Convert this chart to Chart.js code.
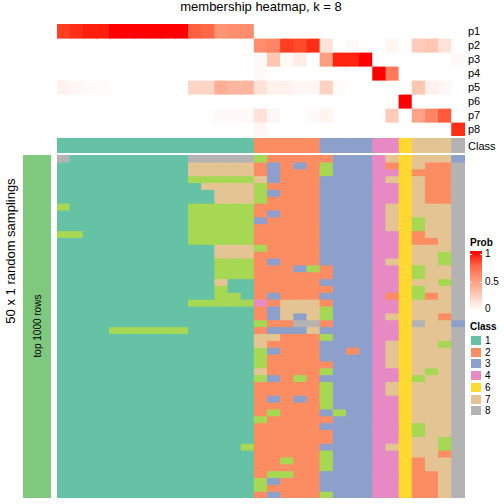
<!DOCTYPE html>
<html>
<head>
<meta charset="utf-8">
<script src="https://cdn.jsdelivr.net/npm/chart.js@4.4.1/dist/chart.umd.min.js"></script>
<style>
  body { margin: 0; width: 504px; height: 504px; position: relative; overflow: hidden; background: #fff;
         font-family: "Liberation Sans", Arial, Helvetica, sans-serif; color: #000; }
  canvas { position: absolute; }
  .txt { position: absolute; white-space: nowrap; }
  .rowlab { position: absolute; left: 468px; height: 14px; line-height: 14px; font-size: 11px; }
  .legtitle { position: absolute; left: 470px; font-size: 10px; font-weight: bold; }
  .leglab { position: absolute; left: 485px; font-size: 10px; line-height: 10px; }
</style>
</head>
<body>

<div class="txt" style="left:0;width:522px;top:0;text-align:center;font-size:13px;line-height:13px">membership heatmap, k = 8</div>

<canvas id="probChart" width="408" height="112" style="left:57px;top:24px"></canvas>
<canvas id="classChart" width="408" height="15" style="left:57px;top:138px"></canvas>
<canvas id="sampleChart" width="408" height="343" style="left:57px;top:155px"></canvas>

<div id="rowLabels"></div>

<!-- left annotation -->
<div style="position:absolute;left:23px;top:155px;width:28px;height:343px;background:#7fc97f"></div>
<div class="txt" style="left:38px;top:326px;font-size:10px;line-height:10px;transform:translate(-50%,-50%) rotate(-90deg)">top 1000 rows</div>
<div class="txt" style="left:10px;top:251px;font-size:13px;line-height:13px;transform:translate(-50%,-50%) rotate(-90deg)">50 x 1 random samplings</div>

<!-- legends -->
<div class="legtitle" style="top:237px">Prob</div>
<div id="probBar" style="position:absolute;left:470px;top:251px;width:12px;height:60px"></div>
<div id="probTicks"></div>
<div class="legtitle" style="top:321px">Class</div>
<div id="classLegend"></div>

<script>
/* ── Data ── */
const columnIds = Array.from({ length: 31 }, (_, i) => 'S' + (i + 1));

const probRowNames = ['p1', 'p2', 'p3', 'p4', 'p5', 'p6', 'p7', 'p8'];
const probP1 = [0.90, 0.94, 0.97, 0.97, 1, 1, 1, 1, 1, 1, 0.78, 0.75, 0.55, 0.58, 0.58, 0, 0, 0, 0, 0, 0, 0, 0, 0, 0, 0, 0, 0, 0, 0, 0];
const probP2 = [0, 0, 0, 0, 0, 0, 0, 0, 0, 0, 0, 0, 0, 0, 0, 0.58, 0.62, 0.90, 0.86, 0.94, 0.15, 0, 0.02, 0, 0, 0.05, 0, 0.27, 0.30, 0.15, 0];
const probP3 = [0, 0, 0, 0, 0, 0, 0, 0, 0, 0, 0, 0, 0, 0, 0, 0.03, 0.30, 0.03, 0.10, 0, 0.50, 0.96, 0.96, 1, 0, 0, 0, 0, 0, 0, 0.03];
const probP4 = [0, 0, 0, 0, 0, 0, 0, 0, 0, 0, 0, 0, 0, 0, 0, 0.03, 0, 0, 0, 0, 0, 0, 0, 0, 1, 0.68, 0, 0, 0, 0, 0];
const probP5 = [0.07, 0.04, 0.02, 0.02, 0, 0, 0, 0, 0, 0, 0.22, 0.22, 0.42, 0.38, 0.38, 0.15, 0.07, 0.07, 0.04, 0.04, 0.24, 0.02, 0, 0, 0, 0, 0, 0.30, 0.07, 0.04, 0];
const probP6 = [0, 0, 0, 0, 0, 0, 0, 0, 0, 0, 0, 0, 0, 0, 0, 0, 0, 0, 0, 0, 0, 0, 0, 0, 0, 0, 1, 0, 0, 0, 0];
const probP7 = [0, 0, 0, 0, 0, 0, 0, 0, 0, 0, 0, 0, 0.03, 0.03, 0.03, 0.15, 0.04, 0, 0, 0.03, 0.06, 0, 0, 0, 0, 0.27, 0, 0.47, 0.62, 0.80, 0];
const probP8 = [0, 0, 0, 0, 0, 0, 0, 0, 0, 0, 0, 0, 0, 0, 0, 0.04, 0, 0, 0, 0, 0, 0, 0, 0, 0, 0, 0, 0, 0, 0, 0.94];

const columnClass = [1, 1, 1, 1, 1, 1, 1, 1, 1, 1, 1, 1, 1, 1, 1, 2, 2, 2, 2, 2, 3, 3, 3, 3, 4, 4, 6, 7, 7, 7, 8];

// class of each column in each of the 50 random samplings (top row first)
const samplings = [
  '811111111188888 52222 2333 47 6 777 3',
  '111111111177777 23232 5333 42 6 722 8',
  '111111111177777 23222 5333 44 6 222 8',
  '111111111155555 73222 3333 47 6 722 8',
  '111111111117777 52222 3333 44 6 722 8',
  '111111111111777 53222 3333 44 6 722 8',
  '111111111111777 52222 3333 44 6 722 8',
  '511111111155555 22222 3333 47 6 777 8',
  '111111111155555 23222 3333 47 6 777 8',
  '111111111155555 32222 3333 47 6 577 8',
  '111111111155555 22222 3333 47 6 577 8',
  '551111111155555 22222 3333 44 6 277 8',
  '111111111155555 22222 3333 44 6 227 8',
  '111111111111777 52222 3333 44 6 777 8',
  '111111111111777 22222 3333 44 6 775 8',
  '111111111111555 23222 3333 47 6 775 8',
  '111111111111555 22235 2333 44 6 577 8',
  '111111111111555 22222 2333 44 6 577 8',
  '111111111111711 22222 3333 44 6 775 8',
  '111111111111511 22222 2333 44 6 577 8',
  '111111111111551 23222 3333 42 6 527 8',
  '111111111155555 42777 2333 44 6 777 8',
  '111111111111111 23777 5333 44 6 777 8',
  '111111111111111 23737 5333 47 6 772 8',
  '111111111111111 52288 2333 44 6 877 3',
  '111155555511111 23337 3333 44 6 777 8',
  '111111111111111 77222 5333 44 6 777 8',
  '111111111111111 72222 3333 47 6 775 8',
  '111111111111111 53222 3323 47 6 777 8',
  '111111111111111 52222 3333 47 6 777 8',
  '111111111111111 52222 2333 47 6 777 8',
  '111111111111111 72222 5333 44 6 757 8',
  '111111111111111 53252 3333 44 6 577 8',
  '111111111111111 22222 5333 47 6 777 8',
  '111111111111111 22222 5333 47 6 777 8',
  '111111111111111 23232 5333 44 6 777 8',
  '111111111111111 22222 5333 44 6 777 8',
  '111111111111111 25222 3533 44 6 777 8',
  '111111111111111 52222 2333 44 6 777 8',
  '111111111111111 22222 3333 44 6 577 8',
  '111111111111111 22222 2333 44 6 577 8',
  '111111111111111 22222 2333 44 6 775 8',
  '111111111111115 22222 3333 47 6 775 8',
  '111111111111111 22222 5333 44 6 772 8',
  '111111111111111 22522 5333 44 6 277 8',
  '111111111111111 22222 5333 44 6 277 8',
  '111111111111111 25522 3333 44 6 227 8',
  '111111111111111 53222 3333 44 6 227 8',
  '111111111111111 52222 3333 44 6 227 8',
  '111111111111111 23222 5333 44 6 227 8'
];

const legendClasses = ['1', '2', '3', '4', '6', '7', '8'];
const legendProbTicks = [1, 0.5, 0];

const classColors = {
  1: '#66c2a5', 2: '#fc8d62', 3: '#8da0cb', 4: '#e78ac3',
  5: '#a6d854', 6: '#ffd92f', 7: '#e5c494', 8: '#b3b3b3'
};

/* ── white → red ramp, interpolated in Lab ── */
function toLin(c) { c /= 255; return c <= 0.04045 ? c / 12.92 : Math.pow((c + 0.055) / 1.055, 2.4); }
function toSrgb(c) {
  c = c <= 0.0031308 ? 12.92 * c : 1.055 * Math.pow(c, 1 / 2.4) - 0.055;
  return Math.round(Math.max(0, Math.min(1, c)) * 255);
}
function rgbToLab(r, g, b) {
  r = toLin(r); g = toLin(g); b = toLin(b);
  const f = t => t > 0.008856 ? Math.cbrt(t) : 7.787 * t + 16 / 116;
  const x = f((0.4124 * r + 0.3576 * g + 0.1805 * b) / 0.95047);
  const y = f(0.2126 * r + 0.7152 * g + 0.0722 * b);
  const z = f((0.0193 * r + 0.1192 * g + 0.9505 * b) / 1.08883);
  return [116 * y - 16, 500 * (x - y), 200 * (y - z)];
}
function labToRgb(L, a, bb) {
  const fy = (L + 16) / 116, fx = fy + a / 500, fz = fy - bb / 200;
  const inv = t => t > 0.206893 ? t * t * t : (t - 16 / 116) / 7.787;
  const x = inv(fx) * 0.95047, y = inv(fy), z = inv(fz) * 1.08883;
  const r =  3.2406 * x - 1.5372 * y - 0.4986 * z;
  const g = -0.9689 * x + 1.8758 * y + 0.0415 * z;
  const b =  0.0557 * x - 0.2040 * y + 1.0570 * z;
  return `rgb(${toSrgb(r)},${toSrgb(g)},${toSrgb(b)})`;
}
const labWhite = rgbToLab(255, 255, 255);
const labRed = rgbToLab(255, 0, 0);
function probColor(v) {
  return labToRgb(...labWhite.map((w, i) => w + (labRed[i] - w) * v));
}

/* ── Heatmap as stacked full-width bars ── */
function heatChart(id, rows, colorOf) {
  return new Chart(document.getElementById(id), {
    type: 'bar',
    data: {
      labels: columnIds,
      datasets: rows.map(r => ({
        data: r.map(() => 1),
        backgroundColor: r.map(colorOf),
        borderWidth: 0,
        barPercentage: 1,
        categoryPercentage: 1,
        inflateAmount: 0.6
      }))
    },
    options: {
      responsive: false,
      animation: false,
      events: [],
      layout: { padding: 0 },
      plugins: { legend: { display: false }, tooltip: { enabled: false } },
      scales: {
        x: { stacked: true, display: false },
        y: { stacked: true, display: false, reverse: true, min: 0, max: rows.length }
      }
    }
  });
}

heatChart('probChart', [probP1, probP2, probP3, probP4, probP5, probP6, probP7, probP8], probColor);
heatChart('classChart', [columnClass], c => classColors[c]);
heatChart('sampleChart', samplings.map(s => s.replace(/ /g, '').split('')), c => classColors[c]);

/* ── Row labels ── */
const rowLabels = document.getElementById('rowLabels');
probRowNames.concat(['Class']).forEach((name, i) => {
  const d = document.createElement('div');
  d.className = 'rowlab';
  d.style.top = (i < 8 ? 24 + i * 14 : 138.5) + 'px';
  d.textContent = name;
  rowLabels.appendChild(d);
});

/* ── Prob legend ── */
document.getElementById('probBar').style.background =
  'linear-gradient(to bottom,' + [1, 0.75, 0.5, 0.25, 0].map(probColor).join(',') + ')';
const probTicks = document.getElementById('probTicks');
legendProbTicks.forEach(v => {
  const y = 254 + (1 - v) * 55;
  probTicks.insertAdjacentHTML('beforeend',
    `<div class="leglab" style="top:${y - 5}px">${v}</div>` +
    `<div style="position:absolute;left:470px;top:${y}px;width:2px;height:1px;background:#fff"></div>` +
    `<div style="position:absolute;left:480px;top:${y}px;width:2px;height:1px;background:#fff"></div>`);
});

/* ── Class legend ── */
const classLegend = document.getElementById('classLegend');
legendClasses.forEach((c, i) => {
  const y = 336 + i * 11.7;
  classLegend.insertAdjacentHTML('beforeend',
    `<div style="position:absolute;left:471px;top:${y}px;width:10px;height:9px;background:${classColors[c]}"></div>` +
    `<div class="leglab" style="top:${y}px">${c}</div>`);
});
</script>
</body>
</html>
